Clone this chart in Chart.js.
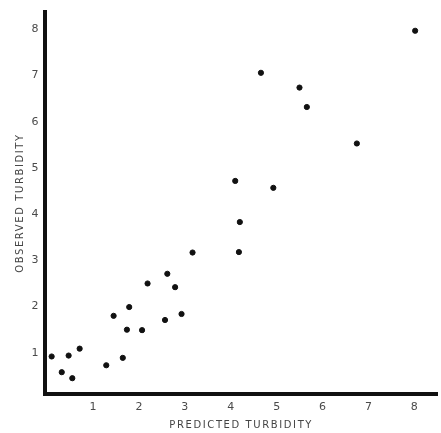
<!DOCTYPE html>
<html>
<head>
<meta charset="utf-8">
<script src="https://cdn.jsdelivr.net/npm/chart.js@4.4.1/dist/chart.umd.min.js"></script>
<style>
  html, body { margin: 0; padding: 0; background: #fff; }
  #wrap { width: 441px; height: 433px; }
</style>
</head>
<body>
<div id="wrap"><canvas id="turbidityChart"></canvas></div>
<script>
// predicted vs observed turbidity
const predicted = [0.08, 0.30, 0.45, 0.53, 0.69, 1.27, 1.43, 1.63, 1.72, 1.77, 2.05, 2.17, 2.55, 2.60, 2.77, 2.91,
  3.15, 4.08, 4.16, 4.18, 4.64, 4.91, 5.48, 5.64, 6.73, 8.00];
const observed = [0.92, 0.58, 0.94, 0.45, 1.09, 0.73, 1.80, 0.89, 1.50, 1.99, 1.49, 2.50, 1.71, 2.71, 2.42, 1.84,
  3.17, 4.72, 3.18, 3.83, 7.06, 4.57, 6.74, 6.32, 5.53, 7.97];
const xTicks = [1, 2, 3, 4, 5, 6, 7, 8];
const yTicks = [1, 2, 3, 4, 5, 6, 7, 8];

const xTitle = "PREDICTED TURBIDITY";
const yTitle = "OBSERVED TURBIDITY";

// spaced-out lettering like the printed figure
const spacing = {
  id: "spacing",
  beforeDraw(chart) { chart.ctx.letterSpacing = "1.6px"; },
  afterDraw(chart) { chart.ctx.letterSpacing = "0px"; }
};

const ctx = document.getElementById("turbidityChart").getContext("2d");

new Chart(ctx, {
  type: "scatter",
  data: {
    datasets: [{
      data: predicted.map((x, i) => ({ x: x, y: observed[i] })),
      backgroundColor: "#111",
      borderColor: "#111",
      pointRadius: 2.6,
      pointHoverRadius: 2.6
    }]
  },
  options: {
    responsive: true,
    maintainAspectRatio: false,
    animation: false,
    layout: { padding: { top: 12, right: 1 } },
    plugins: {
      legend: { display: false },
      tooltip: { enabled: false }
    },
    scales: {
      x: {
        type: "linear",
        min: -0.065,
        max: 8.485,
        afterFit: axis => { axis.height = 39; },
        afterBuildTicks: axis => { axis.ticks = xTicks.map(v => ({ value: v })); },
        grid: { display: false, drawTicks: false },
        border: { display: true, color: "#111", width: 4 },
        ticks: {
          padding: 7,
          color: "#4a4a4a",
          font: { family: "DejaVu Sans", size: 11 }
        },
        title: {
          display: true,
          text: xTitle,
          color: "#444",
          padding: { top: 0, bottom: 2 },
          font: { family: "DejaVu Sans", size: 10 }
        }
      },
      y: {
        type: "linear",
        min: 0.108,
        max: 8.376,
        afterFit: axis => { axis.width = 45; },
        afterBuildTicks: axis => { axis.ticks = yTicks.map(v => ({ value: v })); },
        grid: { display: false, drawTicks: false },
        border: { display: true, color: "#111", width: 4 },
        ticks: {
          padding: 5,
          color: "#4a4a4a",
          font: { family: "DejaVu Sans", size: 11 }
        },
        title: {
          display: true,
          text: yTitle,
          color: "#444",
          padding: { top: 14, bottom: 0 },
          font: { family: "DejaVu Sans", size: 10 }
        }
      }
    }
  },
  plugins: [spacing]
});
</script>
</body>
</html>
